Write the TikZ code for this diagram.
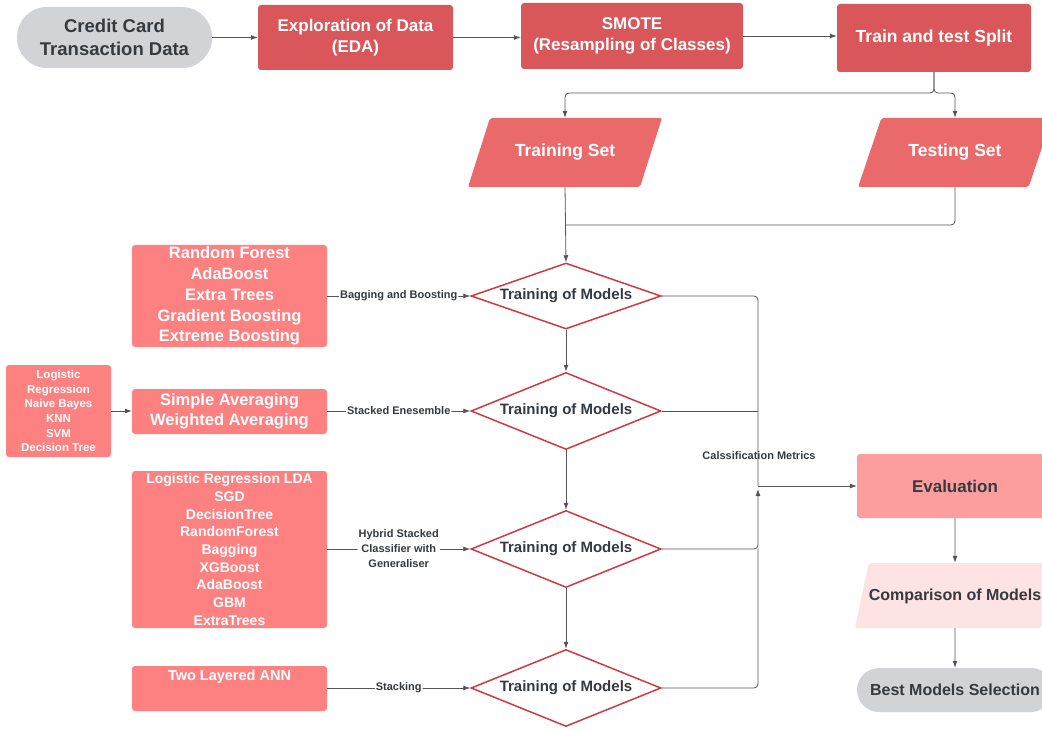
\documentclass[tikz,border=0pt]{standalone}
\usepackage{fontspec}
\setmainfont{Liberation Sans}
\usetikzlibrary{arrows.meta,shapes.geometric}

\definecolor{edared}{HTML}{D9575A}
\definecolor{setred}{HTML}{EA6A6C}
\definecolor{modelpink}{HTML}{FE8182}
\definecolor{evalpink}{HTML}{FC9E9E}
\definecolor{comppink}{HTML}{FDE3E3}
\definecolor{pillgray}{HTML}{D1D3D6}
\definecolor{diamondred}{HTML}{D0393E}
\definecolor{inkgray}{HTML}{353A40}
\definecolor{linegray}{HTML}{555555}

\begin{document}
\begin{tikzpicture}[x=1pt, y=-1pt,
    pill/.style={fill=pillgray, text=inkgray, rounded corners=22pt, inner sep=0pt, align=center, font=\bfseries\fontsize{18.5}{23}\selectfont},
    procbox/.style={fill=edared, text=white, rounded corners=3pt, inner sep=0pt, align=center, font=\bfseries\fontsize{17}{21}\selectfont},
    databox/.style={trapezium, trapezium left angle=78, trapezium right angle=102, trapezium stretches, fill=setred, text=white, rounded corners=2pt, inner xsep=0pt, inner ysep=26pt, text height=13pt, text depth=4pt, minimum width=194pt, font=\bfseries\fontsize{17.5}{21}\selectfont},
    modelbox/.style={fill=modelpink, text=white, rounded corners=3pt, inner sep=0pt, align=center, minimum width=195pt},
    trainbox/.style={diamond, aspect=3, draw=diamondred, line width=1.5pt, fill=white, text=inkgray, inner sep=0pt, minimum width=190pt, font=\bfseries\fontsize{15}{18}\selectfont},
    edgelabel/.style={fill=white, text=inkgray, inner sep=1pt, align=center, font=\bfseries\fontsize{11}{15}\selectfont},
    line/.style={draw=linegray, line width=0.8pt, rounded corners=4pt},
    arrow/.style={line, -{Latex[length=7pt,width=5pt]}}
]
    \useasboundingbox (0,0) rectangle (1042,730);

    % Top row: data and preparation

    \node[pill, minimum width=195pt, minimum height=61pt, rounded corners=30pt] (card) at (114.5,37.5) {Credit Card\\Transaction Data};

    \node[procbox, minimum width=195pt, minimum height=65pt] (eda) at (355.5,37.5) {Exploration of Data\\(EDA)};

    \node[procbox, minimum width=222pt, minimum height=66pt] (smote) at (632,36) {SMOTE\\(Resampling of Classes)};

    \node[procbox, minimum width=194pt, minimum height=68pt, font=\bfseries\fontsize{17.5}{21}\selectfont] (split) at (934,38) {Train and test Split};

    \draw[arrow] (card.east) -- (eda.west |- card.east);
    \draw[arrow] (eda.east) -- (smote.west |- eda.east);
    \draw[arrow] (smote.east) -- (split.west |- smote.east);

    % Split into training and testing set

    \node[databox] (train) at (565,152.5) {Training Set};
    \node[databox] (test) at (955,152.5) {Testing Set};

    \coordinate (fork) at (934,93);
    \draw[arrow] (split.south) -- (fork) -| (train.north);
    \draw[arrow] (split.south) -- (fork) -| (test.north);

    % Training of models (four stages)

    \node[trainbox, minimum height=66pt] (d1) at (566,296) {Training of Models};
    \foreach \i/\y in {2/411,3/549,4/688} {
        \node[trainbox, minimum height=77pt] (d\i) at (566,\y) {Training of Models};
    }

    \coordinate (tjoin) at (566,225);
    \draw[line] (test.south) |- (tjoin);
    \draw[arrow] (train.south) -- (d1.north);
    \foreach \i/\j in {1/2,2/3,3/4} {
        \draw[arrow] (d\i.south) -- (d\j.north);
    }

    % Model groups on the left

    \node[modelbox, minimum height=102pt, font=\bfseries\fontsize{16.5}{20.8}\selectfont] (boost) at (229.5,296) {Random Forest\\AdaBoost\\Extra Trees\\Gradient Boosting\\Extreme Boosting};

    \node[modelbox, minimum height=45pt, font=\bfseries\fontsize{16.5}{20.5}\selectfont] (avg) at (229.5,411.5) {Simple Averaging\\Weighted Averaging};

    \node[modelbox, minimum width=105pt, minimum height=92pt, font=\bfseries\fontsize{11.5}{14.6}\selectfont] (base) at (58.5,411) {Logistic\\Regression\\Naive Bayes\\KNN\\SVM\\Decision Tree};

    \node[modelbox, minimum height=157pt, font=\bfseries\fontsize{14}{17.7}\selectfont] (hybrid) at (229.5,549.5) {Logistic Regression LDA\\SGD\\DecisionTree\\RandomForest\\Bagging\\XGBoost\\AdaBoost\\GBM\\ExtraTrees};

    \node[modelbox, minimum height=45pt, text height=11pt, text depth=27pt, font=\bfseries\fontsize{14.5}{17}\selectfont] (ann) at (229.5,688.5) {Two Layered ANN};

    \draw[arrow] (base.east) -- (avg.west |- base.east);
    \draw[arrow] (boost.east) -- node[edgelabel] {Bagging and Boosting} (d1.west);
    \draw[arrow] (avg.east |- d2.west) -- node[edgelabel] {Stacked Enesemble} (d2.west);
    \draw[arrow] (hybrid.east |- d3.west) -- node[edgelabel] {Hybrid Stacked\\Classifier with\\Generaliser} (d3.west);
    \draw[arrow] (ann.east |- d4.west) -- node[edgelabel] {Stacking} (d4.west);

    % Evaluation and selection

    \node[procbox, fill=evalpink, text=inkgray, minimum width=196pt, minimum height=64pt] (eval) at (955,486) {Evaluation};

    \node[databox, fill=comppink, text=inkgray, minimum width=196pt, inner ysep=24pt, font=\bfseries\fontsize{16}{20}\selectfont] (comp) at (955,595.5) {Comparison of Models};

    \node[pill, minimum width=196pt, minimum height=44pt, font=\bfseries\fontsize{16}{20}\selectfont] (best) at (955,690) {Best Models Selection};

    \coordinate (merge) at (758,486);
    \draw[line] (d1.east) -| (merge);
    \draw[line] (d2.east) -- (d2.east -| merge);
    \draw[line] (d4.east) -| (d3.east -| merge);
    \draw[arrow] (d3.east) -| ([yshift=-3pt]merge);
    \draw[arrow] (merge) -- (eval.west);
    \node[edgelabel, fill=none] (metrics) at (759,456) {Calssification Metrics};

    \draw[arrow] (eval.south) -- (comp.north);
    \draw[arrow] (comp.south) -- (best.north);

\end{tikzpicture}
\end{document}
